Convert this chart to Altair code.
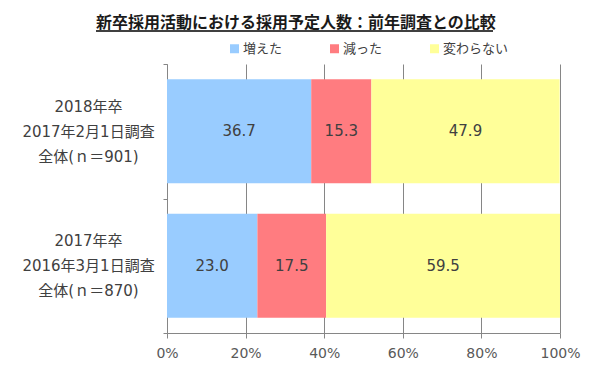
import altair as alt
import pandas as pd

categories = ["2018年卒|2017年2月1日調査|全体(ｎ＝901)", "2017年卒|2016年3月1日調査|全体(ｎ＝870)"]
series = ["増えた", "減った", "変わらない"]
increased = [36.7, 23.0]
decreased = [15.3, 17.5]
unchanged = [47.9, 59.5]
colors = ["#99CCFF", "#FF7C80", "#FFFF99"]
x_ticks = [0, 20, 40, 60, 80, 100]

rows = []
for i, c in enumerate(categories):
    for j, (s, vals) in enumerate(zip(series, [increased, decreased, unchanged])):
        rows.append({"cat": c, "series": s, "order": j, "value": vals[i]})
df = pd.DataFrame(rows)

FONT = "DejaVu Sans, Noto Sans CJK JP"

base = alt.Chart(df)

y_enc = alt.Y(
    "cat:N",
    sort=categories,
    title=None,
    scale=alt.Scale(paddingInner=0, paddingOuter=0),
    axis=alt.Axis(
        labelExpr="split(datum.label, '|')",
        labelAlign="center",
        labelBaseline="middle",
        labelPadding=75,
        labelOffset=-25,
        labelFontSize=15,
        labelColor="#404040",
        labelLineHeight=25,
        labelFont=FONT,
        tickBand="extent",
        tickSize=4,
        tickColor="#868686",
        domainColor="#868686",
        grid=False,
    ),
)

bars = base.mark_bar(height={"band": 0.773}).encode(
    x=alt.X(
        "value:Q",
        stack="zero",
        title=None,
        scale=alt.Scale(domain=[0, 100], nice=False),
        axis=alt.Axis(
            values=x_ticks,
            labelExpr="datum.value + '%'",
            labelFlush=False,
            labelFontSize=14,
            labelColor="#595959",
            labelFont=FONT,
            labelPadding=8,
            tickSize=5,
            tickColor="#868686",
            domainColor="#868686",
            gridColor="#868686",
            gridWidth=1,
        ),
    ),
    y=y_enc,
    color=alt.Color(
        "series:N",
        scale=alt.Scale(domain=series, range=colors),
        legend=alt.Legend(
            title=None,
            orient="none",
            direction="horizontal",
            legendX=61,
            legendY=-22,
            symbolType="square",
            symbolSize=81,
            symbolStrokeWidth=0,
            symbolOpacity=1,
            labelFontSize=13,
            labelColor="#404040",
            labelFont=FONT,
            columnPadding=45,
            labelOffset=2,
        ),
    ),
    order=alt.Order("order:Q"),
)

texts = base.transform_window(
    cum="sum(value)", groupby=["cat"], sort=[alt.SortField("order")]
).transform_calculate(
    mid="datum.cum - datum.value / 2"
).mark_text(fontSize=15, color="#404040", font=FONT).encode(
    x=alt.X("mid:Q"),
    y=alt.Y("cat:N", sort=categories),
    text=alt.Text("value:Q", format=".1f"),
)

underline = alt.Chart(alt.Data(values=[{"u": 1}])).mark_rule(
    color="#000000", strokeWidth=1.3
).encode(x=alt.value(-71), x2=alt.value(326), y=alt.value(-33))

chart = alt.layer(bars, texts, underline).properties(
    width=393,
    height=269,
    title=alt.TitleParams(
        text="新卒採用活動における採用予定人数：前年調査との比較",
        anchor="start",
        frame="group",
        dx=-71,
        dy=9,
        fontSize=16,
        fontWeight="bold",
        color="#1a1a1a",
        font=FONT,
        offset=8,
    ),
    autosize=alt.AutoSizeParams(type="none"),
    padding={"left": 159, "top": 56, "right": 30, "bottom": 30},
).configure_view(stroke=None)

chart.save("out.html", embed_options={"renderer": "svg", "actions": False})
